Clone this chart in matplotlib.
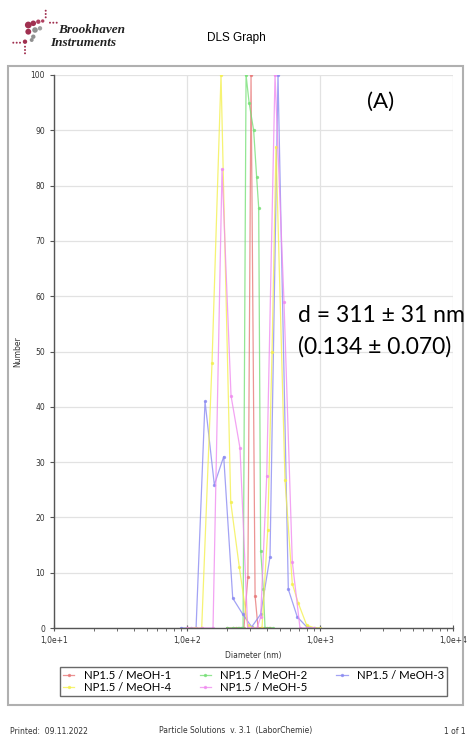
import numpy as np
import matplotlib.pyplot as plt
from matplotlib.patches import Rectangle
from matplotlib.ticker import FixedLocator, LogLocator, NullFormatter

W, H = 470, 736

# diameter (nm) / number values
red_d = [200, 220, 232, 245, 258, 268, 287, 303, 325, 342, 360, 380, 400, 420]
red_n = [0, 0, 0, 0, 0, 0, 9.3, 100, 5.8, 0, 0, 0, 0, 0]

green_d = [200, 220, 240, 255, 264, 278, 293, 317, 334, 346, 358, 375, 386, 410, 440]
green_n = [0, 0, 0, 0, 0, 100, 95, 90, 81.5, 76, 14, 7, 0, 0, 0]

blue_d = [90, 100, 108, 117, 136.6, 160.5, 188.8, 220.7, 262.4, 306.5, 358.3, 420.9,
          483.3, 577.8, 674.8, 794.3, 900, 1000]
blue_n = [0, 0, 0, 0, 41, 25.9, 31, 5.4, 2.5, 0.2, 2.5, 12.9, 100, 7, 2, 0.2, 0, 0]

yellow_d = [100, 115, 129, 154.2, 180.2, 213.2, 247.4, 286, 320, 366.4, 404.5, 436,
            466.9, 545.6, 619.1, 686.6, 794.3, 917, 1000]
yellow_n = [0, 0, 0, 48, 100, 22.8, 11, 0.5, 0, 0, 17.7, 50, 87, 26.8, 8, 4.5, 0.5, 0, 0]

pink_d = [100, 130, 156.9, 183.4, 214.3, 250.4, 286, 310, 336, 358, 397.5, 459,
          536.2, 619, 707, 800, 900]
pink_n = [0, 0, 0, 83, 42, 32.5, 0, 0, 0, 2, 27.4, 100, 59, 12, 0, 0, 0]

names = ["NP1.5 / MeOH-1", "NP1.5 / MeOH-2", "NP1.5 / MeOH-3",
         "NP1.5 / MeOH-4", "NP1.5 / MeOH-5"]
cols = ["#e87a7a", "#78e078", "#8c8cf2", "#f4f050", "#f08cf0"]
series = [(red_d, red_n), (green_d, green_n), (blue_d, blue_n),
          (yellow_d, yellow_n), (pink_d, pink_n)]

xtick_vals = [1e1, 1e2, 1e3, 1e4]
xtick_labels = ["1,0e+1", "1,0e+2", "1,0e+3", "1,0e+4"]


def fx(x):
    return x / W


def fy(y):
    return 1 - y / H


fig = plt.figure(figsize=(W / 100, H / 100), dpi=100)
ax = fig.add_axes([fx(54), fy(628), fx(453) - fx(54), fy(75) - fy(628)])

hs = []
for (d, n), c, name in zip(series, cols, names):
    h, = ax.plot(d, n, color=c, lw=0.9, marker='o', ms=1.4, alpha=0.8, label=name)
    hs.append(h)

ax.set_xscale('log')
ax.set_xlim(10, 1e4)
ax.set_ylim(0, 100)
ax.xaxis.set_major_locator(FixedLocator(xtick_vals))
ax.set_xticklabels(xtick_labels)
ax.xaxis.set_minor_locator(LogLocator(base=10, subs=np.arange(2, 10)))
ax.xaxis.set_minor_formatter(NullFormatter())
ax.set_yticks(np.arange(0, 101, 10))
ax.grid(True, which='major', color='#e2e2e2', lw=0.9)
ax.set_axisbelow(True)
for s in ['top', 'right']:
    ax.spines[s].set_visible(False)
for s in ['left', 'bottom']:
    ax.spines[s].set_color('#555555')
    ax.spines[s].set_linewidth(1.0)
ax.tick_params(which='major', direction='out', length=3, width=0.8,
               colors='#555555', labelsize=5.5, labelcolor='#333333')
ax.tick_params(axis='x', which='major', direction='inout', length=5)
ax.tick_params(axis='x', which='minor', direction='out', length=2, width=0.6,
               colors='#555555')
ax.set_xlabel("Diameter (nm)", fontsize=5.5, color='#333333', labelpad=4)
ax.set_ylabel("Number", fontsize=5.5, color='#333333', labelpad=6)

leg = fig.legend([hs[0], hs[3], hs[1], hs[4], hs[2]],
                 [names[0], names[3], names[1], names[4], names[2]],
                 ncol=3, loc='center', mode='expand',
                 bbox_to_anchor=(fx(54), fy(697), fx(453) - fx(54), fy(666) - fy(697)),
                 frameon=True, fancybox=False, handlelength=1.0, handletextpad=0.8,
                 borderpad=0.3, labelspacing=0.05, columnspacing=0.8,
                 prop={'family': 'Lato', 'size': 8.2})
leg.get_frame().set_edgecolor('#444444')
leg.get_frame().set_linewidth(1.0)

# outer frame around the graph
fig.patches.append(Rectangle((fx(8), fy(705)), fx(463) - fx(8), fy(66) - fy(705),
                             transform=fig.transFigure, fill=False,
                             edgecolor='#b0b0b0', lw=1.5))

# annotations
fig.text(fx(381), fy(102), "(A)", fontsize=16, family='Lato', ha='center', va='center')
fig.text(fx(298), fy(315), "d = 311 \u00b1 31 nm", fontsize=16.5, family='Lato',
         ha='left', va='center')
fig.text(fx(298), fy(347), "(0.134 \u00b1 0.070)", fontsize=16.5, family='Lato',
         ha='left', va='center')

# header
fig.text(fx(236), fy(38), "DLS Graph", fontsize=8.5, ha='center', va='center',
         family='Liberation Sans')
fig.text(fx(58), fy(30), "Brookhaven", fontsize=9.5, family='Liberation Serif',
         style='italic', weight='bold', ha='left', va='center', color='#222222')
fig.text(fx(50), fy(43), "Instruments", fontsize=9.5, family='Liberation Serif',
         style='italic', weight='bold', ha='left', va='center', color='#222222')
logo_x = [45.7, 45.7, 45.7, 50, 53.3, 56.7, 28.3, 33.3, 38.3, 42.7, 28.3, 35, 40,
          33.3, 13.3, 16.7, 20, 25, 31.7, 25, 25, 25]
logo_y = [10.7, 14, 17.3, 22.7, 22.7, 22.7, 25, 23.3, 21.7, 21, 31.7, 30, 28.3,
          36.7, 42.7, 42.7, 42.7, 41.7, 40, 46.7, 50, 53.3]
logo_s = [2, 2, 2, 2, 2, 2, 24, 16, 10, 6, 18, 16, 10, 10, 2, 2, 2, 10, 8, 2, 2, 2]
logo_c = ['#a03050'] * 6 + ['#a03050', '#a03050', '#b04060', '#b04060',
                            '#a03050', '#909090', '#a0a0a0', '#909090',
                            '#a03050', '#a03050', '#a03050', '#a03050', '#909090',
                            '#a03050', '#a03050', '#a03050']
lax = fig.add_axes([0, 0, 1, 1], zorder=-1)
lax.set_xlim(0, W)
lax.set_ylim(H, 0)
lax.axis('off')
lax.scatter(logo_x, logo_y, s=logo_s, c=logo_c, edgecolors='none')

# footer
fig.text(fx(10), fy(731), "Printed:  09.11.2022", fontsize=5.5, ha='left', va='center',
         color='#333333')
fig.text(fx(236), fy(731), "Particle Solutions  v. 3.1  (LaborChemie)", fontsize=5.5,
         ha='center', va='center', color='#333333')
fig.text(fx(466), fy(731), "1 of 1", fontsize=5.5, ha='right', va='center',
         color='#333333')

fig.savefig("out.png", dpi=100)
